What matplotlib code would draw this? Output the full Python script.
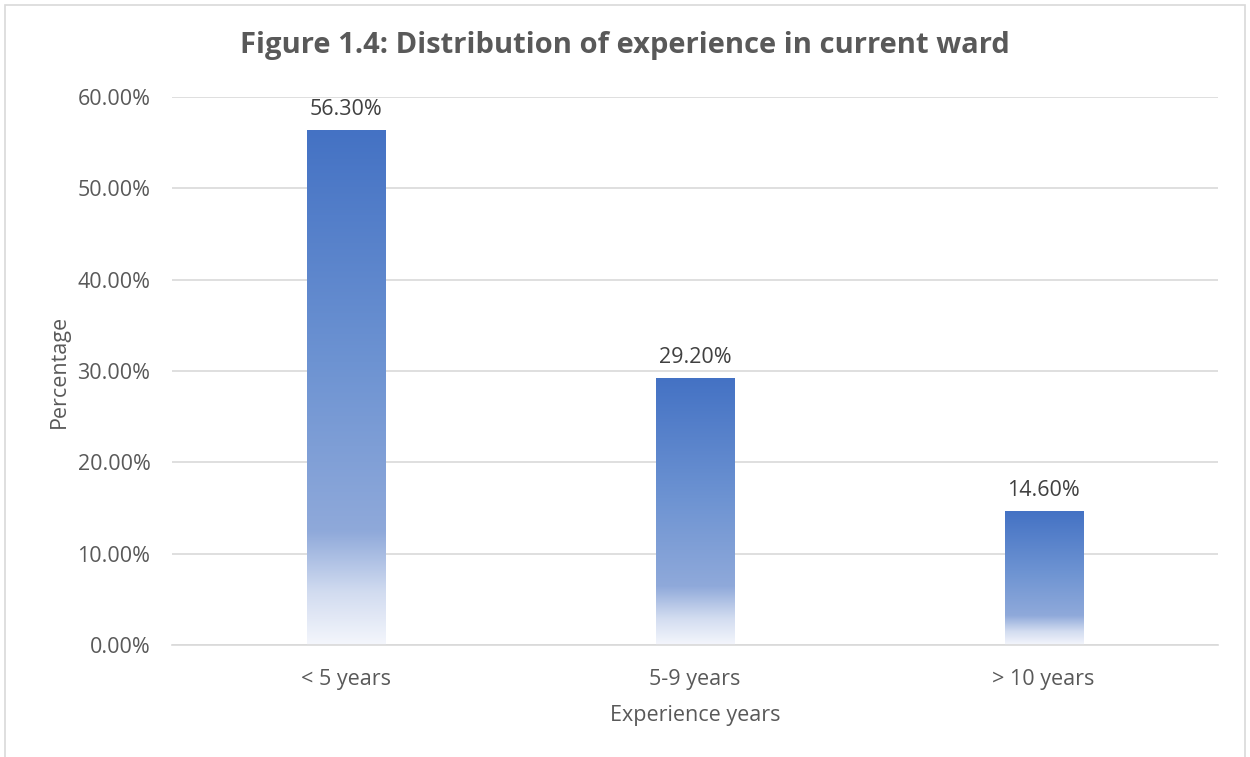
import numpy as np
import matplotlib
matplotlib.use("Agg")
import matplotlib.pyplot as plt
from matplotlib.colors import LinearSegmentedColormap
from matplotlib.patches import Rectangle

# data
categories = ["< 5 years", "5-9 years", "> 10 years"]
values = [56.30, 29.20, 14.60]
yticks = [0, 10, 20, 30, 40, 50, 60]

plt.rcParams['font.family'] = ['Open Sans', 'DejaVu Sans']

fig = plt.figure(figsize=(12.5, 7.57), dpi=100)
ax = fig.add_axes([0.1376, 0.148, 0.8368, 0.7239])

# chart border like the office chart area
fig.patches.append(Rectangle((5 / 1250, -0.05), 1240 / 1250, 1 - 5 / 757 + 0.05,
                             transform=fig.transFigure, fill=False,
                             edgecolor="#D9D9D9", linewidth=1.2))

# gradient fill: light at the bottom, full blue at the top
grad = LinearSegmentedColormap.from_list(
    "bar", [(0.0, "#F4F6FC"), (0.10, "#D2DCF0"), (0.22, "#8FA9DA"),
            (0.55, "#6D93D2"), (1.0, "#4472C4")])
ramp = np.linspace(0, 1, 256).reshape(-1, 1)

width = 0.224
x = np.arange(len(categories))
for xi, v in zip(x, values):
    ax.imshow(ramp, cmap=grad, origin="lower", aspect="auto",
              extent=(xi - width / 2, xi + width / 2, 0, v), zorder=2)
    ax.annotate(f"{v:.2f}%", (xi, v), xytext=(0, 15), textcoords="offset points",
                ha="center", va="center", fontsize=15.5, color="#404040")

ax.set_xlim(-0.5, 2.5)
ax.set_ylim(0, 60)
ax.set_yticks(yticks)
ax.set_yticklabels([f"{t:.2f}%" for t in yticks])
ax.set_xticks(x)
ax.set_xticklabels(categories)
ax.tick_params(length=0, labelsize=15.5, labelcolor="#595959")
ax.tick_params(axis="x", pad=17)
ax.tick_params(axis="y", pad=15.5)
ax.grid(axis="y", color="#D9D9D9", linewidth=1.2, zorder=1)
ax.set_axisbelow(True)
for s in ["top", "right", "left"]:
    ax.spines[s].set_visible(False)
ax.spines["bottom"].set_color("#D9D9D9")
ax.spines["bottom"].set_linewidth(1.2)

ax.set_ylabel("Percentage", fontsize=15.5, color="#595959")
ax.yaxis.set_label_coords(-0.098, 0.5)
ax.set_xlabel("Experience years", fontsize=15.5, color="#595959", labelpad=11)

fig.text(0.5, 1 - 45 / 757, "Figure 1.4: Distribution of experience in current ward",
         ha="center", va="center", fontsize=21, fontweight="bold", color="#595959")

fig.savefig("out.png", dpi=100, facecolor="white")
